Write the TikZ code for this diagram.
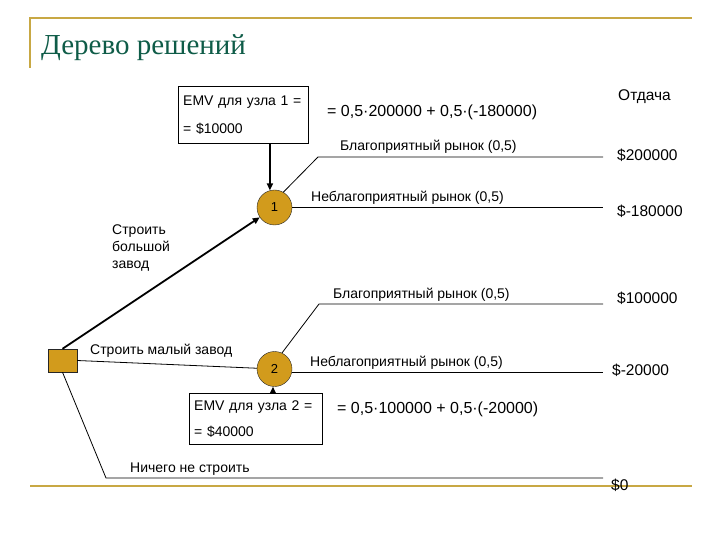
\documentclass[tikz,border=0pt]{standalone}
\usepackage{fontspec}
\setmainfont{Liberation Sans}
\newfontfamily\titlefont{Liberation Serif}
\usetikzlibrary{positioning,arrows.meta}
\definecolor{framegold}{HTML}{C8A844}
\definecolor{nodegold}{HTML}{D29B1C}
\definecolor{titlegreen}{HTML}{0F5C48}
\newcommand{\lblfont}{\fontsize{14bp}{17bp}\selectfont}
\newcommand{\payfont}{\fontsize{15.5bp}{18bp}\selectfont}
\tikzset{
  chance/.style={circle, draw=black!85, fill=nodegold, minimum size=35bp,
    inner sep=0pt, font=\fontsize{13bp}{15bp}\selectfont},
  choice/.style={rectangle, draw=black!85, fill=nodegold, minimum width=29bp,
    minimum height=23bp, inner sep=0pt},
  emvbox/.style={draw=black, fill=white, align=left, anchor=north west,
    inner xsep=5bp, inner ysep=0pt, font=\fontsize{14bp}{26bp}\selectfont},
  lbl/.style={font=\lblfont, anchor=west, inner sep=0pt},
  pay/.style={font=\payfont, anchor=west, inner sep=0pt},
  branch/.style={draw=black, line width=0.8bp},
  move/.style={-{Triangle[length=7bp,width=6bp]}, line width=1.8bp, draw=black},
  rim/.style={draw=framegold, line width=2.5bp},
}

\begin{document}
\begin{tikzpicture}[x=1bp, y=-1bp]
    \useasboundingbox (0,0) rectangle (720,540);
    % frame and title
    \draw[rim] (30,68) -- (30,18) -- (692,18);
    \draw[rim] (30,486) -- (692,486);
    \node[anchor=base west, inner sep=0pt, text=titlegreen,
      font=\titlefont\fontsize{29bp}{32bp}\selectfont] (title) at (41,55) {Дерево решений};
    % decision and chance nodes
    \node[choice] (sq) at (62.5,360.5) {};
    \node[chance] (n1) at (274.5,207.5) {1};
    \node[chance] (n2) at (274.5,369) {2};
    % expected values
    \node[emvbox, text width=120bp, minimum height=57bp,
      font=\fontsize{14bp}{28bp}\selectfont] (emv1) at (178,86)
      {EMV для узла 1 =\\= \$10000};
    \node[emvbox, text width=123bp, minimum height=51bp] (emv2) at (189,393)
      {EMV для узла 2 =\\= \$40000};
    \node[pay, font=\fontsize{16bp}{18bp}\selectfont] (f1) at (327,112)
      {= 0,5·200000 + 0,5·(-180000)};
    \node[pay, font=\fontsize{16bp}{18bp}\selectfont] (f2) at (337,409)
      {= 0,5·100000 + 0,5·(-20000)};
    % branch ends
    \coordinate (k1) at (318,157);
    \coordinate (e1) at (603,157);
    \coordinate (e2) at (603,207.5);
    \coordinate (k3) at (319,304);
    \coordinate (e3) at (603,304);
    \coordinate (e4) at (603,372);
    \coordinate (k5) at (106,478);
    \coordinate (e5) at (603,478);
    % branches
    \draw[move] (sq.north) -- (n1);
    \draw[branch] (sq.east) -- (n2);
    \draw[branch] (sq.south) -- (k5) -- (e5);
    \draw[branch] (n1.60) -- (k1) -- (e1);
    \draw[branch] (n1.east) -- (e2);
    \draw[branch] (n2.65) -- (k3) -- (e3);
    \draw[branch] (n2.east |- e4) -- (e4);
    \draw[move] (n1.105 |- emv1.south) -- (n1.105);
    \draw[move] (n2.265 |- emv2.north) -- (n2.265);
    % branch labels
    \node[lbl] (good1) at (340,147) {Благоприятный рынок (0,5)};
    \node[lbl] (bad1) at (311,198) {Неблагоприятный рынок (0,5)};
    \node[lbl] (good2) at (333,295) {Благоприятный рынок (0,5)};
    \node[lbl] (bad2) at (310,363) {Неблагоприятный рынок (0,5)};
    \node[lbl, align=left] (big) at (112,248) {Строить\\большой\\завод};
    \node[lbl] (small) at (90,351) {Строить малый завод};
    \node[lbl] (none) at (130,469) {Ничего не строить};
    % payoffs
    \node[pay] (head) at (618,97) {Отдача};
    \node[pay] (p1) at (617,155) {\$200000};
    \node[pay] (p2) at (617,211) {\$-180000};
    \node[pay] (p3) at (617,298) {\$100000};
    \node[pay] (p4) at (612,370) {\$-20000};
    \node[pay] (p5) at (611,485) {\$0};
\end{tikzpicture}
\end{document}
